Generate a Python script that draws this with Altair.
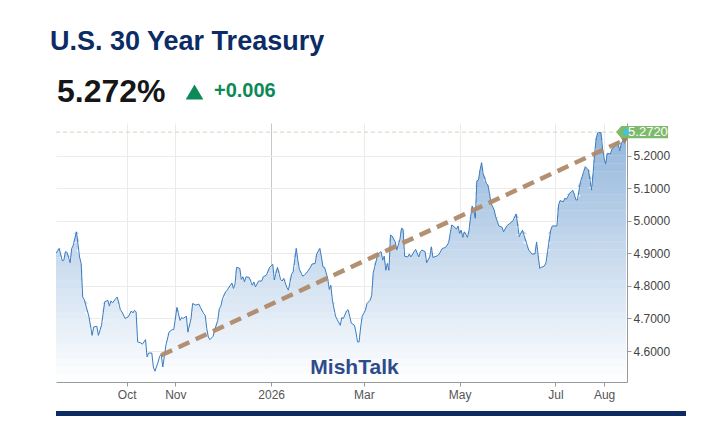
import altair as alt
import numpy as np
import pandas as pd

# ---------------- data ----------------
start_date = "2025-08-17"
day_offset = [
    0, 2, 4, 5, 6, 7, 9, 10, 11, 13, 15, 16, 17, 18, 21, 23, 24, 26, 27, 29,
    31, 33, 34, 35, 36, 38, 39, 41, 42, 44, 46, 48, 49, 50, 51, 52, 54, 55, 57, 58,
    59, 61, 62, 63, 65, 66, 67, 68, 69, 70, 72, 74, 75, 77, 79, 80, 81, 83, 84, 86,
    87, 89, 91, 92, 94, 95, 96, 97, 98, 100, 101, 103, 104, 105, 106, 108, 109, 111, 112, 113,
    114, 115, 117, 118, 119, 120, 121, 123, 125, 126, 127, 129, 131, 132, 134, 136, 137, 138, 139, 141,
    143, 144, 145, 147, 148, 150, 151, 153, 154, 155, 157, 158, 160, 162, 163, 165, 166, 168, 169, 170,
    171, 172, 173, 174, 175, 176, 178, 179, 181, 182, 183, 185, 186, 187, 188, 190, 191, 192, 193, 194,
    195, 197, 198, 200, 201, 202, 204, 205, 207, 208, 209, 210, 211, 212, 213, 214, 216, 217, 219, 220,
    221, 222, 224, 225, 226, 228, 229, 231, 232, 233, 235, 236, 238, 239, 240, 242, 243, 244, 246, 248,
    250, 251, 252, 253, 255, 256, 257, 258, 259, 260, 262, 263, 264, 265, 266, 267, 268, 269, 270, 271,
    272, 274, 275, 276, 277, 279, 280, 282, 284, 285, 287, 289, 291, 293, 295, 297, 300, 301, 303, 305,
    306, 307, 308, 309, 311, 312, 313, 315, 316, 319, 320, 321, 323, 324, 325, 327, 328, 329, 330, 331,
    332, 334, 335, 336, 337, 338, 339, 341, 342, 343, 344, 345, 347, 348, 349, 350, 351, 353, 354, 355,
    357, 358, 359, 360, 361, 362, 363,
]
yield_pct = [
    4.900, 4.915, 4.877, 4.879, 4.905, 4.903, 4.871, 4.915, 4.925, 4.966, 4.889, 4.869, 4.766, 4.758, 4.705, 4.648, 4.674, 4.676, 4.648, 4.679,
    4.751, 4.756, 4.738, 4.754, 4.748, 4.761, 4.766, 4.727, 4.720, 4.700, 4.705, 4.723, 4.717, 4.725, 4.720, 4.628, 4.625, 4.621, 4.635, 4.582,
    4.594, 4.594, 4.551, 4.538, 4.566, 4.584, 4.590, 4.551, 4.584, 4.618, 4.658, 4.666, 4.666, 4.734, 4.694, 4.703, 4.700, 4.707, 4.658, 4.700,
    4.746, 4.741, 4.744, 4.734, 4.715, 4.710, 4.669, 4.643, 4.635, 4.645, 4.664, 4.694, 4.730, 4.738, 4.761, 4.782, 4.787, 4.802, 4.809, 4.792,
    4.807, 4.857, 4.854, 4.820, 4.828, 4.812, 4.828, 4.826, 4.802, 4.812, 4.797, 4.815, 4.815, 4.828, 4.833, 4.857, 4.861, 4.866, 4.818, 4.857,
    4.820, 4.815, 4.823, 4.795, 4.787, 4.836, 4.843, 4.915, 4.879, 4.850, 4.830, 4.832, 4.843, 4.857, 4.867, 4.869, 4.898, 4.915, 4.889, 4.858,
    4.857, 4.840, 4.823, 4.789, 4.802, 4.756, 4.707, 4.697, 4.679, 4.703, 4.700, 4.723, 4.727, 4.707, 4.686, 4.679, 4.658, 4.628, 4.628, 4.674,
    4.707, 4.725, 4.746, 4.756, 4.770, 4.840, 4.879, 4.898, 4.905, 4.879, 4.891, 4.848, 4.869, 4.848, 4.956, 4.953, 4.935, 4.910, 4.943, 4.977,
    4.974, 4.891, 4.889, 4.898, 4.889, 4.905, 4.912, 4.889, 4.905, 4.910, 4.905, 4.871, 4.889, 4.920, 4.887, 4.891, 4.893, 4.898, 4.915, 4.918,
    4.932, 4.961, 4.987, 4.984, 4.974, 4.984, 4.961, 4.971, 4.949, 4.966, 4.949, 4.971, 5.012, 5.045, 5.031, 5.007, 5.123, 5.125, 5.156, 5.178,
    5.144, 5.115, 5.110, 5.084, 5.054, 5.033, 5.012, 4.984, 4.980, 4.966, 4.984, 4.992, 5.000, 5.021, 4.951, 4.971, 4.925, 4.910, 4.898, 4.898,
    4.935, 4.894, 4.854, 4.857, 4.861, 4.871, 4.905, 4.971, 4.984, 4.984, 5.048, 5.062, 5.058, 5.069, 5.066, 5.084, 5.089, 5.094, 5.082, 5.064,
    5.064, 5.120, 5.135, 5.151, 5.166, 5.161, 5.156, 5.094, 5.146, 5.207, 5.254, 5.271, 5.271, 5.223, 5.192, 5.174, 5.207, 5.205, 5.220, 5.223,
    5.240, 5.233, 5.215, 5.238, 5.246, 5.264, 5.272,
]
trend_days = [67, 362]
trend_vals = [4.587, 5.248]

title_text = "U.S. 30 Year Treasury"
price_text = "5.272%"
change_text = "+0.006"
watermark_text = "MishTalk"
last_label = "5.2720"

y_ticks = [4.6, 4.7, 4.8, 4.9, 5.0, 5.1, 5.2]
x_tick_dates = ["2025-10-01", "2025-11-01", "2026-01-01", "2026-03-01",
                "2026-05-01", "2026-07-01", "2026-08-01"]
x_domain = ["2025-08-17T00:00:00", "2026-08-15T14:00:00"]
y_domain = [4.505, 5.30]

# ---------------- tables ----------------
base = pd.Timestamp(start_date)
df = pd.DataFrame({"date": base + pd.to_timedelta(day_offset, unit="D"),
                   "value": yield_pct})
trend_df = pd.DataFrame({"date": base + pd.to_timedelta(trend_days, unit="D"),
                         "value": trend_vals})
last_df = df.tail(1).assign(label=last_label)
arrow_df = trend_df.tail(1)

# vertical gradient fill under the line, built as horizontal slices of the area
GRAD_TOP, GRAD_BOTTOM = "#93b6dc", "#ffffff"
n_bands = 32
edges = np.linspace(y_domain[0], df["value"].max(), n_bands + 1)
parts = []
for i in range(n_bands):
    b_lo, b_hi = edges[i], edges[i + 1]
    top = np.clip(df["value"].to_numpy(), b_lo, b_hi)
    bottom = np.where(df["value"].to_numpy() > b_lo, b_lo - 0.0008, b_lo)
    parts.append(pd.DataFrame({"date": df["date"], "top": top, "bottom": bottom,
                               "band": i, "mid": (b_lo + b_hi) / 2}))
band_df = pd.concat(parts, ignore_index=True)


def to_dt(s):
    t = pd.Timestamp(s)
    return alt.DateTime(year=t.year, month=t.month, date=t.day,
                        hours=t.hour, minutes=t.minute)


FONT = "Liberation Sans"

x_enc = alt.X(
    "date:T",
    title=None,
    scale=alt.Scale(domain=[to_dt(s) for s in x_domain], nice=False),
    axis=alt.Axis(
        values=[to_dt(s) for s in x_tick_dates],
        labelExpr="month(datum.value) == 0 ? timeFormat(datum.value, '%Y') : timeFormat(datum.value, '%b')",
        labelFont=FONT, labelFontSize=12, labelColor="#555555",
        labelPadding=3, tickSize=4, tickColor="#999999",
        domainColor="#999999", grid=True,
        gridColor={"condition": {"test": "month(datum.value) === 0", "value": "#c8c8c8"},
                   "value": "#ebebeb"},
    ),
)
y_enc = alt.Y(
    "top:Q",
    title=None,
    stack=None,
    scale=alt.Scale(domain=y_domain, nice=False, zero=False),
    axis=alt.Axis(
        orient="right", values=y_ticks, format=".4f",
        labelFont=FONT, labelFontSize=12, labelColor="#444444",
        labelPadding=2, tickSize=4, tickColor="#999999",
        domainColor="#999999", grid=True, gridColor="#ebebeb",
    ),
)

area = alt.Chart(band_df).mark_area(clip=True, opacity=1, interpolate="linear").encode(
    x=x_enc, y=y_enc, y2="bottom:Q", detail="band:N",
    color=alt.Color("mid:Q", legend=None,
                    scale=alt.Scale(domain=[edges[0], edges[-1]], range=[GRAD_BOTTOM, GRAD_TOP],
                                    interpolate="rgb")),
)
line = alt.Chart(df).mark_line(color="#3b7cbf", strokeWidth=1, clip=True).encode(x="date:T", y="value:Q")

last_rule = alt.Chart(last_df).mark_rule(color="#c6dcba", strokeDash=[4, 3], strokeWidth=1).encode(y="value:Q")

trend = alt.Chart(trend_df).mark_line(color="#b08a6a", strokeWidth=4.5, strokeDash=[12, 7],
                                       opacity=0.95).encode(x="date:T", y="value:Q")
arrow = alt.Chart(arrow_df).mark_point(shape="triangle-down", filled=True, size=130,
                                       color="#a5805e", opacity=1, yOffset=-1).encode(x="date:T", y="value:Q")

tag_path = "M-1,0L-0.8,-0.24L1,-0.24L1,0.24L-0.8,0.24Z"
tag = alt.Chart(last_df).mark_point(shape=tag_path, filled=True, size=2704, color="#7dba6b",
                                    opacity=1, xOffset=16).encode(x="date:T", y="value:Q")
dot = alt.Chart(last_df).mark_point(shape="circle", filled=True, size=36, color="#3cc3e6",
                                    opacity=1).encode(x="date:T", y="value:Q")
tag_text = alt.Chart(last_df).mark_text(align="left", baseline="middle", dx=2, color="white",
                                        font=FONT, fontSize=13).encode(x="date:T", y="value:Q", text="label:N")

title = alt.Chart(pd.DataFrame({"t": [title_text]})).mark_text(
    align="left", baseline="alphabetic", font=FONT, fontSize=27, fontWeight="bold", color="#0c2c66"
).encode(x=alt.value(-6), y=alt.value(-73), text="t:N")
price = alt.Chart(pd.DataFrame({"t": [price_text]})).mark_text(
    align="left", baseline="alphabetic", font=FONT, fontSize=32, fontWeight="bold", color="#161616"
).encode(x=alt.value(1), y=alt.value(-21), text="t:N")
up_tri = alt.Chart(pd.DataFrame({"t": [change_text]})).mark_point(
    shape="triangle-up", filled=True, size=310, color="#0b8a57", opacity=1
).encode(x=alt.value(138.5), y=alt.value(-31))
change = alt.Chart(pd.DataFrame({"t": [change_text]})).mark_text(
    align="left", baseline="alphabetic", font=FONT, fontSize=20, fontWeight="bold", color="#0b8a57"
).encode(x=alt.value(158), y=alt.value(-26), text="t:N")
watermark = alt.Chart(pd.DataFrame({"t": [watermark_text]})).mark_text(
    align="center", baseline="alphabetic", font=FONT, fontSize=21, fontWeight="bold", color="#2e4b8c"
).encode(x=alt.value(298.5), y=alt.value(251), text="t:N")
bar = alt.Chart(pd.DataFrame({"t": [0]})).mark_rule(color="#0c2b63", strokeWidth=5).encode(
    x=alt.value(0), x2=alt.value(630), y=alt.value(290.5))

chart = alt.layer(
    area, line, last_rule, trend, arrow, tag, dot, tag_text,
    title, price, up_tri, change, watermark, bar,
).properties(
    width=571, height=259,
    padding={"left": 48, "top": 115, "right": 70, "bottom": 40},
    autosize="none",
    background="white",
).configure_view(strokeWidth=0)

chart.save("out.html", embed_options={"renderer": "svg", "actions": False})
